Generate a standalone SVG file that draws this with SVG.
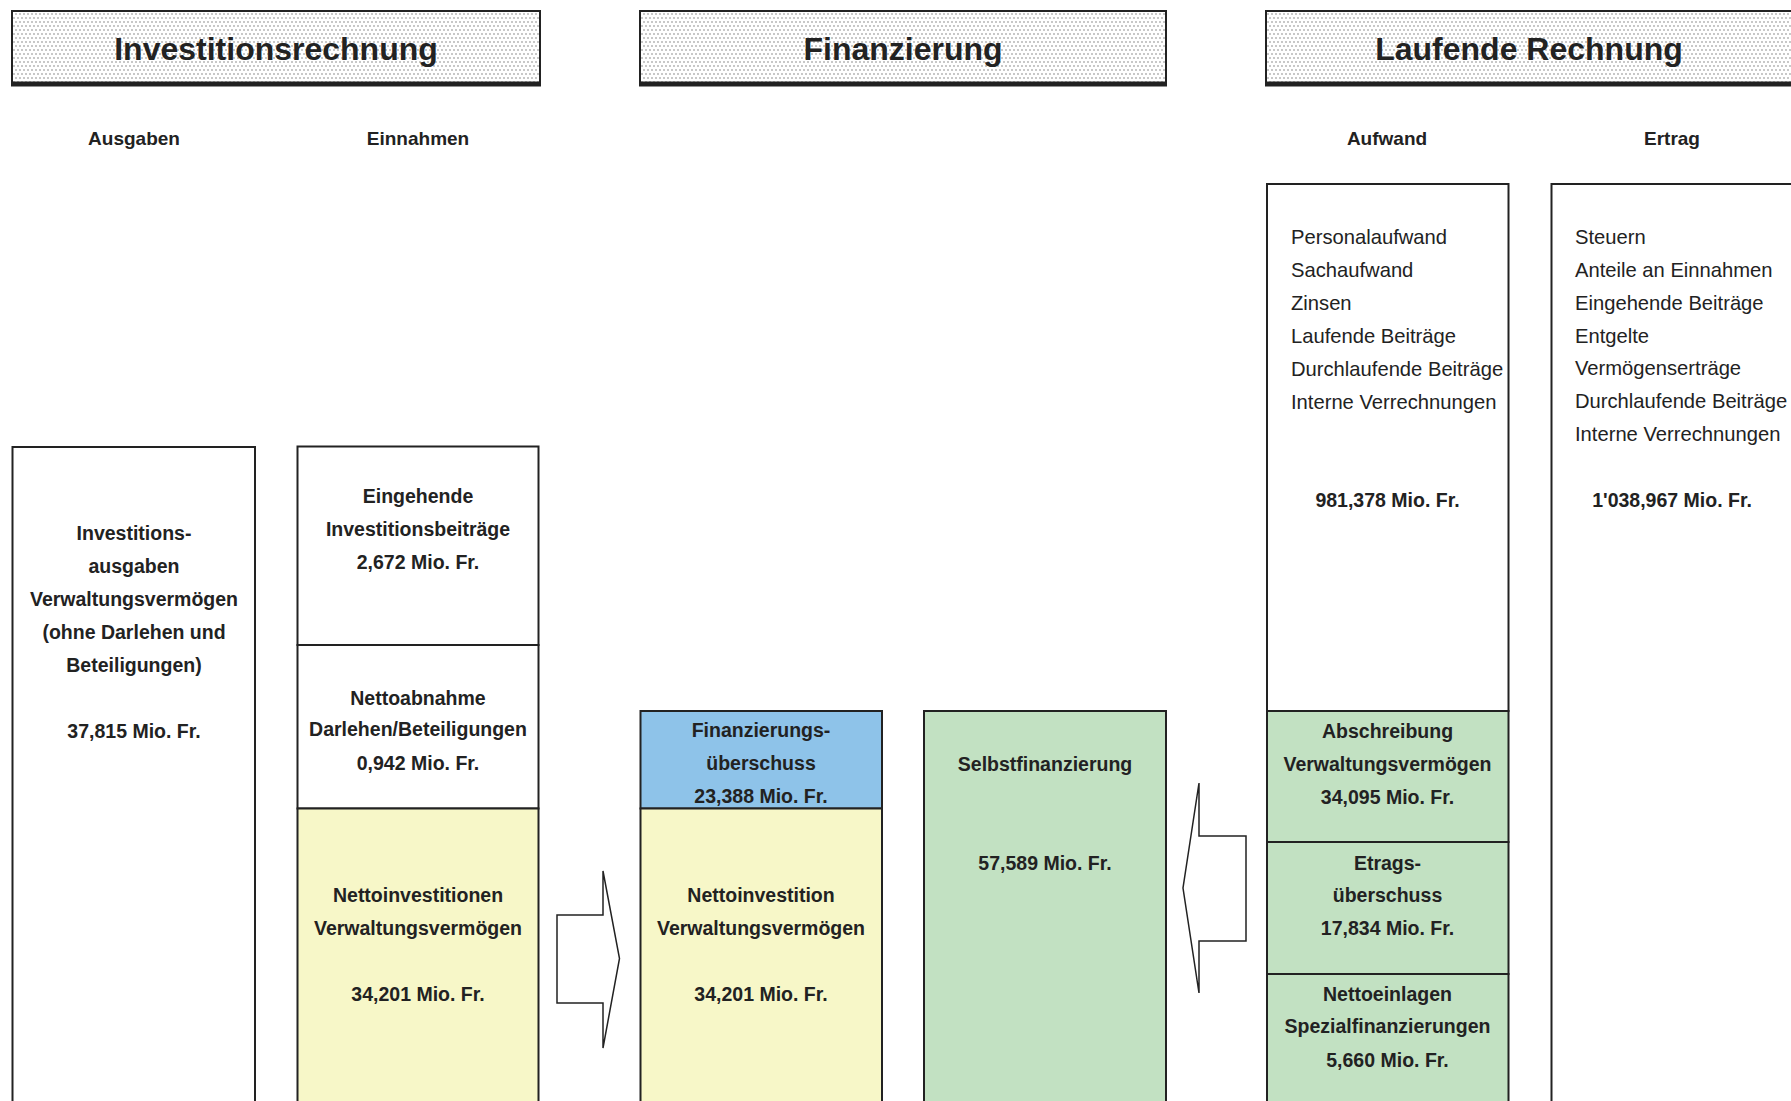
<svg xmlns="http://www.w3.org/2000/svg" width="1791" height="1101" viewBox="0 0 1791 1101">
<defs>
<pattern id="dots" x="0" y="0" width="8" height="8" patternUnits="userSpaceOnUse">
<rect width="8" height="8" fill="#ffffff"/>
<circle cx="2" cy="2" r="0.7" fill="#666"/>
<circle cx="6" cy="2" r="0.7" fill="#666"/>
<circle cx="4" cy="6" r="0.7" fill="#666"/>
<circle cx="0" cy="6" r="0.7" fill="#666"/>
<circle cx="8" cy="6" r="0.7" fill="#666"/>
</pattern>
</defs>
<style>
.hdr{fill:url(#dots);stroke:#222;stroke-width:2}
.bar{fill:#222}
.ht{font-family:"Liberation Sans",Arial,sans-serif;font-weight:bold;font-size:32px;fill:#222;text-anchor:middle}
.ch{font-family:"Liberation Sans",Arial,sans-serif;font-weight:bold;font-size:19px;fill:#222;text-anchor:middle}
.box{stroke:#222;stroke-width:2}
.w{fill:#ffffff}
.y{fill:#f7f7c8}
.b{fill:#8ec3e9}
.g{fill:#c2e1c2}
.bt{font-family:"Liberation Sans",Arial,sans-serif;font-weight:bold;font-size:19.5px;fill:#222;text-anchor:middle}
.lt{font-family:"Liberation Sans",Arial,sans-serif;font-size:20.2px;fill:#222}
.arr{fill:#ffffff;stroke:#222;stroke-width:1.5;stroke-linejoin:miter}
</style>
<rect width="1791" height="1101" fill="#ffffff"/>

<g id="header-investitionsrechnung">
<rect class="hdr" x="12" y="11" width="528" height="72"/>
<rect class="bar" x="11" y="81.5" width="530" height="5"/>
<text class="ht" x="276" y="60">Investitionsrechnung</text>
</g>
<g id="header-finanzierung">
<rect class="hdr" x="640" y="11" width="526" height="72"/>
<rect class="bar" x="639" y="81.5" width="528" height="5"/>
<text class="ht" x="903" y="60">Finanzierung</text>
</g>
<g id="header-laufende-rechnung">
<rect class="hdr" x="1266" y="11" width="528" height="72"/>
<rect class="bar" x="1265" y="81.5" width="530" height="5"/>
<text class="ht" x="1529" y="60">Laufende Rechnung</text>
</g>

<g id="column-headings">
<text class="ch" x="134" y="145">Ausgaben</text>
<text class="ch" x="418" y="145">Einnahmen</text>
<text class="ch" x="1387" y="145">Aufwand</text>
<text class="ch" x="1672" y="145">Ertrag</text>
</g>

<g id="investitionsausgaben">
<rect class="box w" x="12.5" y="447" width="242.5" height="670"/>
<text class="bt" x="134" y="540">Investitions-</text>
<text class="bt" x="134" y="573">ausgaben</text>
<text class="bt" x="134" y="606">Verwaltungsvermögen</text>
<text class="bt" x="134" y="639">(ohne Darlehen und</text>
<text class="bt" x="134" y="672">Beteiligungen)</text>
<text class="bt" x="134" y="738">37,815 Mio. Fr.</text>
</g>

<g id="eingehende-investitionsbeitraege">
<rect class="box w" x="297.5" y="446.5" width="241" height="198.5"/>
<text class="bt" x="418" y="503">Eingehende</text>
<text class="bt" x="418" y="536">Investitionsbeiträge</text>
<text class="bt" x="418" y="569">2,672 Mio. Fr.</text>
</g>
<g id="nettoabnahme-darlehen">
<rect class="box w" x="297.5" y="645" width="241" height="163.5"/>
<text class="bt" x="418" y="705">Nettoabnahme</text>
<text class="bt" x="418" y="736">Darlehen/Beteiligungen</text>
<text class="bt" x="418" y="770">0,942 Mio. Fr.</text>
</g>
<g id="nettoinvestitionen">
<rect class="box y" x="297.5" y="808.5" width="241" height="310"/>
<text class="bt" x="418" y="902">Nettoinvestitionen</text>
<text class="bt" x="418" y="935">Verwaltungsvermögen</text>
<text class="bt" x="418" y="1001">34,201 Mio. Fr.</text>
</g>

<g id="finanzierungsueberschuss">
<rect class="box b" x="640.5" y="711" width="241.5" height="97.5"/>
<text class="bt" x="761" y="737">Finanzierungs-</text>
<text class="bt" x="761" y="770">überschuss</text>
<text class="bt" x="761" y="803">23,388 Mio. Fr.</text>
</g>
<g id="nettoinvestition">
<rect class="box y" x="640.5" y="808.5" width="241.5" height="310"/>
<text class="bt" x="761" y="902">Nettoinvestition</text>
<text class="bt" x="761" y="935">Verwaltungsvermögen</text>
<text class="bt" x="761" y="1001">34,201 Mio. Fr.</text>
</g>

<g id="selbstfinanzierung">
<rect class="box g" x="924" y="711" width="242" height="410"/>
<text class="bt" x="1045" y="771">Selbstfinanzierung</text>
<text class="bt" x="1045" y="870">57,589 Mio. Fr.</text>
</g>

<g id="aufwand">
<rect class="box w" x="1267" y="184" width="241.5" height="527"/>
<text class="lt" x="1291" y="244">Personalaufwand</text>
<text class="lt" x="1291" y="277">Sachaufwand</text>
<text class="lt" x="1291" y="310">Zinsen</text>
<text class="lt" x="1291" y="343">Laufende Beiträge</text>
<text class="lt" x="1291" y="376">Durchlaufende Beiträge</text>
<text class="lt" x="1291" y="409">Interne Verrechnungen</text>
<text class="bt" x="1387.5" y="507">981,378 Mio. Fr.</text>
</g>
<g id="abschreibung">
<rect class="box g" x="1267" y="711" width="241.5" height="131"/>
<text class="bt" x="1387.5" y="738">Abschreibung</text>
<text class="bt" x="1387.5" y="771">Verwaltungsvermögen</text>
<text class="bt" x="1387.5" y="804">34,095 Mio. Fr.</text>
</g>
<g id="ertragsueberschuss">
<rect class="box g" x="1267" y="842" width="241.5" height="132"/>
<text class="bt" x="1387.5" y="870">Etrags-</text>
<text class="bt" x="1387.5" y="902">überschuss</text>
<text class="bt" x="1387.5" y="935">17,834 Mio. Fr.</text>
</g>
<g id="nettoeinlagen">
<rect class="box g" x="1267" y="974" width="241.5" height="150"/>
<text class="bt" x="1387.5" y="1001">Nettoeinlagen</text>
<text class="bt" x="1387.5" y="1033">Spezialfinanzierungen</text>
<text class="bt" x="1387.5" y="1067">5,660 Mio. Fr.</text>
</g>

<g id="ertrag">
<rect class="box w" x="1551.5" y="184" width="243" height="940"/>
<text class="lt" x="1575" y="244">Steuern</text>
<text class="lt" x="1575" y="277">Anteile an Einnahmen</text>
<text class="lt" x="1575" y="310">Eingehende Beiträge</text>
<text class="lt" x="1575" y="343">Entgelte</text>
<text class="lt" x="1575" y="375">Vermögenserträge</text>
<text class="lt" x="1575" y="408">Durchlaufende Beiträge</text>
<text class="lt" x="1575" y="441">Interne Verrechnungen</text>
<text class="bt" x="1672" y="507">1'038,967 Mio. Fr.</text>
</g>

<g id="connectors">
<polygon class="arr" points="557,915 603,915 603,871 619.5,958.5 603,1048 603,1003 557,1003"/>
<polygon class="arr" points="1246,836 1199,836 1199,783 1183,888 1199,993 1199,941 1246,941"/>
</g>
</svg>
